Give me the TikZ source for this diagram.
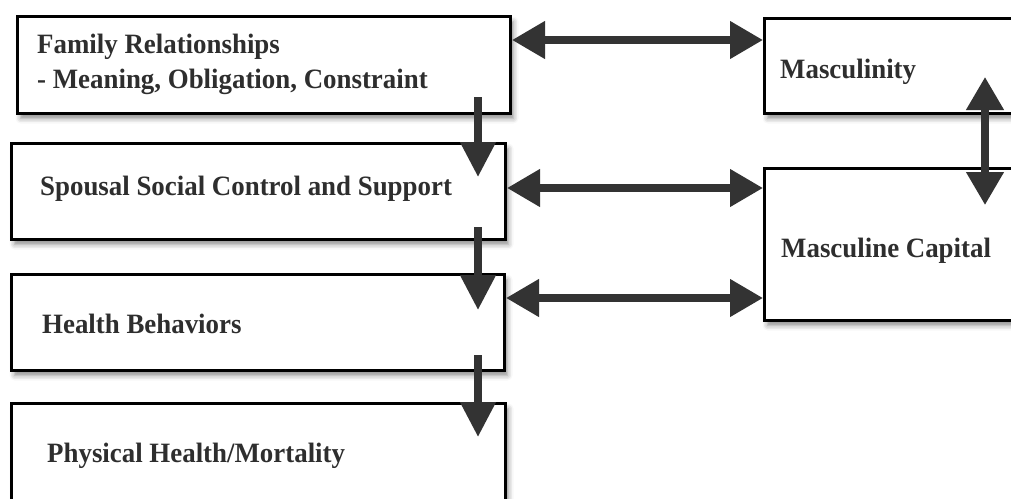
\documentclass[tikz,border=0pt]{standalone}
\usepackage{fontspec}
\setmainfont{Liberation Serif}
\newfontfamily\boxfont{Liberation Serif}[FakeStretch=0.96]
\usetikzlibrary{arrows.meta,calc,shadows.blur}
\definecolor{txt}{HTML}{2E2E2E}
\definecolor{arr}{HTML}{333333}
\tikzset{
  box/.style={draw=black, line width=3pt, fill=white, anchor=north west,
    blur shadow={shadow xshift=3pt, shadow yshift=-5pt, shadow blur radius=5pt, shadow opacity=45}},
  lbl/.style={anchor=base west, inner sep=0pt, align=left, text=txt,
    font=\boxfont\fontsize{28}{35}\selectfont\bfseries},
  conn/.style={draw=arr, line width=7.5pt},
  tipd/.style={conn, -{Triangle[width=34pt,length=35pt]}},
  tipdd/.style={conn, {Triangle[width=36pt,length=33pt]}-{Triangle[width=36pt,length=33pt]}},
}
\begin{document}
\begin{tikzpicture}[x=1pt,y=-1pt]
\useasboundingbox (0,0) rectangle (1011,498);
\clip (0,0) rectangle (1011,498);
% left column
\node[box, minimum width=493pt, minimum height=97pt] (fam) at (16,15) {};
\node[box, minimum width=494pt, minimum height=96pt] (sp) at (10,142) {};
\node[box, minimum width=493pt, minimum height=96pt] (hb) at (10,273) {};
\node[box, minimum width=494pt, minimum height=97pt] (ph) at (10,402) {};
% right column
\node[box, minimum width=270pt, minimum height=95pt] (masc) at (763,17) {};
\node[box, minimum width=270pt, minimum height=152pt] (cap) at (763,167) {};
% texts (base west = baseline of last line)
\node[lbl] (famt) at (37,88) {Family Relationships\\- Meaning, Obligation, Constraint};
\node[lbl] (spt) at (40,195) {Spousal Social Control and Support};
\node[lbl] (hbt) at (42,333) {Health Behaviors};
\node[lbl] (pht) at (47,462) {Physical Health/Mortality};
\node[lbl] (masct) at (780,78) {Masculinity};
\node[lbl] (capt) at (781,257) {Masculine Capital};
% vertical arrows
\draw[tipd] ($(fam.south -| 478,0)+(0,-18)$) -- ($(sp.north -| 478,0)+(0,35)$);
\draw[tipd] ($(sp.south -| 478,0)+(0,-14)$) -- ($(hb.north -| 478,0)+(0,37)$);
\draw[tipd] ($(hb.south -| 478,0)+(0,-17)$) -- ($(ph.north -| 478,0)+(0,35)$);
% horizontal arrows
\draw[tipdd] (fam.east |- 0,40) -- (masc.west |- 0,40);
\draw[tipdd] (sp.east |- 0,188) -- (cap.west |- 0,188);
\draw[tipdd] (hb.east |- 0,298) -- (cap.west |- 0,298);
% masculinity <-> capital
\draw[tipdd] ($(masc.south -| 985,0)+(0,-38)$) -- ($(cap.north -| 985,0)+(0,38)$);
\end{tikzpicture}
\end{document}
